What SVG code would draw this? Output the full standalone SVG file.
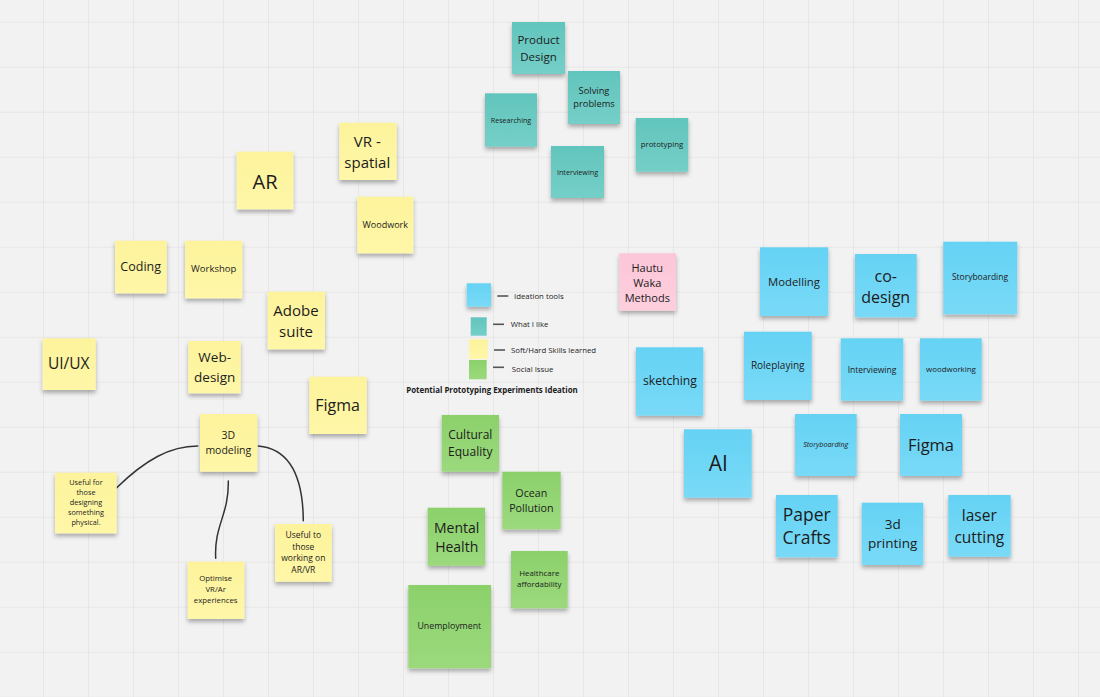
<svg xmlns="http://www.w3.org/2000/svg" width="1100" height="697" viewBox="0 0 1100 697">
<style>
text{font-family:"Open Sans","Noto Sans","Liberation Sans",sans-serif;fill:#1c1c1c;text-anchor:middle;dominant-baseline:central}
.lg{text-anchor:start}
.n{filter:url(#sh)}
.teal{fill:url(#gTeal)}
.yel{fill:url(#gYel)}
.blu{fill:url(#gBlu)}
.grn{fill:url(#gGrn)}
.pnk{fill:url(#gPnk)}
.conn{fill:none;stroke:#333;stroke-width:1.5;stroke-linecap:round}
.dash{stroke:#555;stroke-width:1.6}
</style>
<defs>
<pattern id="grid" patternUnits="userSpaceOnUse" x="43" y="21.7" width="45" height="45">
<path d="M0 0H45M0 0V45" stroke="#e3e3e3" stroke-width="1.5" fill="none"/>
</pattern>
<filter id="sh" x="-20%" y="-20%" width="140%" height="150%">
<feDropShadow dx="0" dy="3" stdDeviation="2" flood-color="#000" flood-opacity="0.3"/>
</filter>
<linearGradient id="gTeal" x1="0" y1="0" x2="0" y2="1"><stop offset="0" stop-color="#62c5bd"/><stop offset="1" stop-color="#74cfc7"/></linearGradient>
<linearGradient id="gYel" x1="0" y1="0" x2="0" y2="1"><stop offset="0" stop-color="#fdf39c"/><stop offset="1" stop-color="#fff7a8"/></linearGradient>
<linearGradient id="gBlu" x1="0" y1="0" x2="0" y2="1"><stop offset="0" stop-color="#65d2f4"/><stop offset="1" stop-color="#79daf7"/></linearGradient>
<linearGradient id="gGrn" x1="0" y1="0" x2="0" y2="1"><stop offset="0" stop-color="#8bd16b"/><stop offset="1" stop-color="#9cd97d"/></linearGradient>
<linearGradient id="gPnk" x1="0" y1="0" x2="0" y2="1"><stop offset="0" stop-color="#fcc6d8"/><stop offset="1" stop-color="#fdcfdd"/></linearGradient>
</defs>
<rect width="1100" height="697" fill="#f2f2f2"/>
<rect width="1100" height="697" fill="url(#grid)"/>

<g id="connectors">
<path class="conn" d="M116.7,487.7 C145,460 170,446 197.7,446"/>
<path class="conn" d="M228.3,481 C229,515 214,525 215.7,558.3"/>
<path class="conn" d="M258.3,446 C292,449 303,480 303.3,520.7"/>
</g>

<!-- Teal -->
<g id="product-design"><rect class="n teal" x="512" y="22" width="53" height="52"/><text font-size="11.5"><tspan x="538.5" y="39.3">Product</tspan><tspan x="538.5" y="55.7">Design</tspan></text></g>
<g id="solving-problems"><rect class="n teal" x="568" y="71" width="52" height="53"/><text font-size="9.3"><tspan x="594" y="90">Solving</tspan><tspan x="594" y="103.3">problems</tspan></text></g>
<g id="researching"><rect class="n teal" x="485" y="93.3" width="52" height="53.4"/><text font-size="7.1" x="511" y="119.5">Researching</text></g>
<g id="interviewing-teal"><rect class="n teal" x="551" y="146" width="53" height="52"/><text font-size="7.2" x="577.5" y="172">Interviewing</text></g>
<g id="prototyping"><rect class="n teal" x="635.7" y="118" width="52.6" height="53.7"/><text font-size="7.8" x="662" y="144">prototyping</text></g>

<!-- Yellow -->
<g id="vr-spatial"><rect class="n yel" x="339.3" y="122.7" width="57.4" height="57.3"/><text font-size="15"><tspan x="367.3" y="140.7">VR -</tspan><tspan x="367.3" y="161.7">spatial</tspan></text></g>
<g id="ar"><rect class="n yel" x="236.7" y="151.7" width="56.6" height="57.6"/><text font-size="20" x="265" y="181">AR</text></g>
<g id="woodwork"><rect class="n yel" x="357.3" y="196.7" width="56" height="56.6"/><text font-size="9" x="385.3" y="224.7">Woodwork</text></g>
<g id="coding"><rect class="n yel" x="115" y="240.7" width="51.7" height="52.6"/><text font-size="12.5" x="140.7" y="266.7">Coding</text></g>
<g id="workshop"><rect class="n yel" x="185" y="240.7" width="57.3" height="57.6"/><text font-size="9.5" x="213.7" y="268.7">Workshop</text></g>
<g id="adobe-suite"><rect class="n yel" x="267.7" y="291.7" width="57.3" height="57.6"/><text font-size="15"><tspan x="296" y="310">Adobe</tspan><tspan x="296" y="330.7">suite</tspan></text></g>
<g id="ui-ux"><rect class="n yel" x="42.7" y="338.3" width="53" height="51.7"/><text font-size="15.5" x="68.7" y="363.3">UI/UX</text></g>
<g id="web-design"><rect class="n yel" x="188.3" y="341" width="52.4" height="52.3"/><text font-size="13.5"><tspan x="214.7" y="357.3">Web-</tspan><tspan x="214.7" y="376.7">design</tspan></text></g>
<g id="figma-yellow"><rect class="n yel" x="309.3" y="376.7" width="57.4" height="57.3"/><text font-size="16" x="337.5" y="405">Figma</text></g>
<g id="3d-modeling"><rect class="n yel" x="200" y="414" width="57.3" height="57.7"/><text font-size="10.5"><tspan x="228.3" y="435">3D</tspan><tspan x="228.3" y="450">modeling</tspan></text></g>
<g id="useful-physical"><rect class="n yel" x="55" y="472.7" width="61.7" height="60.6"/><text font-size="7.3"><tspan x="86" y="481.7">Useful for</tspan><tspan x="86" y="492.1">those</tspan><tspan x="86" y="502.3">designing</tspan><tspan x="86" y="512.3">something</tspan><tspan x="86" y="522.3">physical.</tspan></text></g>
<g id="optimise-vr"><rect class="n yel" x="187.7" y="561.7" width="56.6" height="57.3"/><text font-size="7.8"><tspan x="215.7" y="578.3">Optimise</tspan><tspan x="215.7" y="589.3">VR/Ar</tspan><tspan x="215.7" y="600.3">experiences</tspan></text></g>
<g id="useful-arvr"><rect class="n yel" x="275" y="524" width="56.7" height="57.7"/><text font-size="8.5"><tspan x="303.3" y="533.5">Useful to</tspan><tspan x="303.3" y="545.5">those</tspan><tspan x="303.3" y="557.3">working on</tspan><tspan x="303.3" y="569.3">AR/VR</tspan></text></g>

<!-- Legend -->
<g id="legend">
<rect class="n blu" x="466.7" y="283.3" width="24.3" height="23.4"/>
<rect class="teal" x="470.7" y="317.3" width="16" height="18.4"/>
<rect class="yel" x="469" y="339.3" width="18.7" height="19.7"/>
<rect class="grn" x="469" y="360" width="17.7" height="19.3"/>
<line class="dash" x1="497.3" y1="296" x2="508.3" y2="296"/>
<line class="dash" x1="493" y1="324.3" x2="504" y2="324.3"/>
<line class="dash" x1="494" y1="350" x2="505" y2="350"/>
<line class="dash" x1="493" y1="367.3" x2="504" y2="367.3"/>
<text class="lg" font-size="7.8" x="514" y="296">Ideation tools</text>
<text class="lg" font-size="7.8" x="510.7" y="324.3">What I like</text>
<text class="lg" font-size="7.8" x="511" y="350">Soft/Hard Skills learned</text>
<text class="lg" font-size="7.8" x="511.7" y="369.3">Social Issue</text>
<text font-size="7.9" font-weight="bold" x="492" y="389.5">Potential Prototyping Experiments Ideation</text>
</g>

<g id="hautu-waka"><rect class="n pnk" x="619.3" y="253.3" width="56.7" height="57.4"/><text font-size="11"><tspan x="647.3" y="266.7">Hautu</tspan><tspan x="647.3" y="281.7">Waka</tspan><tspan x="647.3" y="296.7">Methods</tspan></text></g>

<!-- Green -->
<g id="cultural-equality"><rect class="n grn" x="441.7" y="415" width="57.3" height="56.7"/><text font-size="12"><tspan x="470.3" y="434">Cultural</tspan><tspan x="470.3" y="451">Equality</tspan></text></g>
<g id="ocean-pollution"><rect class="n grn" x="502.3" y="471.7" width="58.4" height="57.6"/><text font-size="10.7"><tspan x="531.3" y="492.7">Ocean</tspan><tspan x="531.3" y="507.7">Pollution</tspan></text></g>
<g id="mental-health"><rect class="n grn" x="427.7" y="507.7" width="57.3" height="58"/><text font-size="14"><tspan x="456.7" y="526.7">Mental</tspan><tspan x="456.7" y="545.7">Health</tspan></text></g>
<g id="healthcare"><rect class="n grn" x="511" y="551" width="56.7" height="57.3"/><text font-size="7.9"><tspan x="539.3" y="573.3">Healthcare</tspan><tspan x="539.3" y="584.3">affordability</tspan></text></g>
<g id="unemployment"><rect class="n grn" x="408.3" y="585" width="82.7" height="83.3"/><text font-size="8.8" x="449.3" y="625.7">Unemployment</text></g>

<!-- Blue -->
<g id="modelling"><rect class="n blu" x="760" y="247.3" width="68.3" height="68.7"/><text font-size="11.3" x="794" y="281">Modelling</text></g>
<g id="co-design"><rect class="n blu" x="855" y="254" width="61.7" height="63.3"/><text font-size="16"><tspan x="885.7" y="275.7">co-</tspan><tspan x="885.7" y="296.7">design</tspan></text></g>
<g id="storyboarding-top"><rect class="n blu" x="943.3" y="241.7" width="74" height="72.6"/><text font-size="8.5" x="980" y="276.7">Storyboarding</text></g>
<g id="sketching"><rect class="n blu" x="636" y="347.3" width="67.3" height="68.4"/><text font-size="12.2" x="670" y="380.7">sketching</text></g>
<g id="roleplaying"><rect class="n blu" x="744" y="331.7" width="67.7" height="68.3"/><text font-size="10" x="777.7" y="365">Roleplaying</text></g>
<g id="interviewing-blue"><rect class="n blu" x="840.7" y="338.3" width="62.6" height="62.4"/><text font-size="8.5" x="872" y="369.3">Interviewing</text></g>
<g id="woodworking"><rect class="n blu" x="920" y="338.3" width="61.7" height="62.4"/><text font-size="7.9" x="951" y="369.3">woodworking</text></g>
<g id="ai"><rect class="n blu" x="684" y="429.3" width="67.7" height="68.4"/><text font-size="21" x="718.3" y="463.3">AI</text></g>
<g id="storyboarding-low"><rect class="n blu" x="795" y="414" width="61.7" height="62"/><text font-size="7.2" font-style="italic" x="825.7" y="444">Storyboarding</text></g>
<g id="figma-blue"><rect class="n blu" x="900" y="414" width="62" height="62"/><text font-size="16.5" x="931" y="444">Figma</text></g>
<g id="paper-crafts"><rect class="n blu" x="776" y="495" width="61.7" height="62.3"/><text font-size="17.5"><tspan x="806.7" y="514">Paper</tspan><tspan x="806.7" y="537.3">Crafts</tspan></text></g>
<g id="3d-printing"><rect class="n blu" x="861.7" y="502.7" width="61.6" height="62.3"/><text font-size="13.5"><tspan x="892.7" y="524">3d</tspan><tspan x="892.7" y="542.7">printing</tspan></text></g>
<g id="laser-cutting"><rect class="n blu" x="948.3" y="495" width="62.4" height="61.7"/><text font-size="15.5"><tspan x="979.3" y="515">laser</tspan><tspan x="979.3" y="536.7">cutting</tspan></text></g>
</svg>
